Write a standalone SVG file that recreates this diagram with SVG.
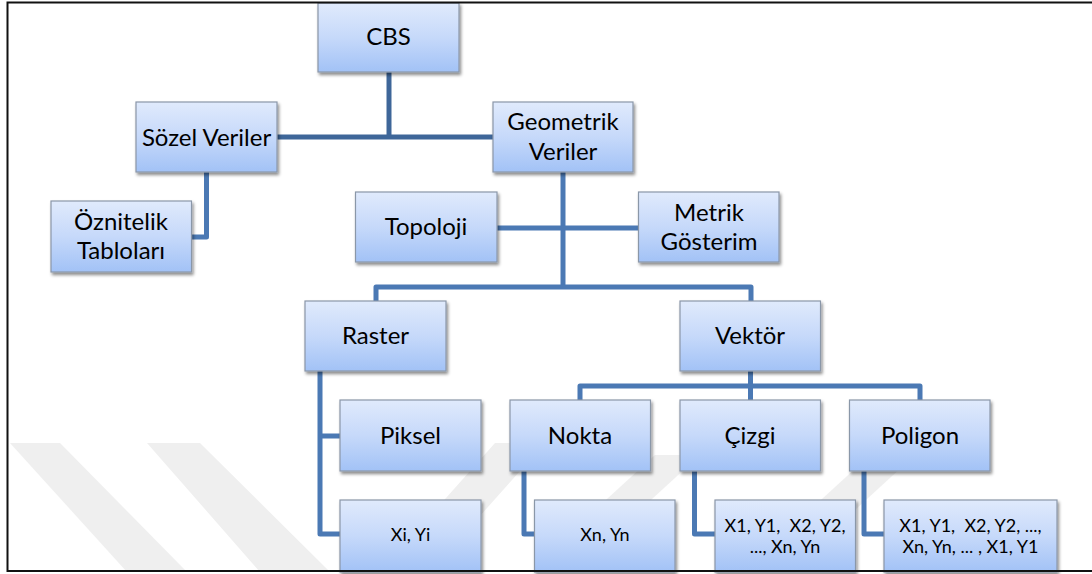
<svg xmlns="http://www.w3.org/2000/svg" width="1092" height="574" viewBox="0 0 1092 574">
<defs>
<linearGradient id="bg" x1="0" y1="0" x2="0" y2="1">
<stop offset="0" stop-color="#e0eafc"/>
<stop offset="0.5" stop-color="#c6d9fa"/>
<stop offset="1" stop-color="#a2c2f6"/>
</linearGradient>
<filter id="sh" x="-10%" y="-10%" width="125%" height="130%">
<feDropShadow dx="1.5" dy="2.5" stdDeviation="1.8" flood-color="#000" flood-opacity="0.45"/>
</filter>
<style>
.b{fill:url(#bg);stroke:#8a97a8;stroke-width:1.2;filter:url(#sh)}
.t{font-family:Lato,"Open Sans","Liberation Sans",sans-serif;font-size:24px;font-weight:400;fill:#000;text-anchor:middle}
.s{font-size:18px}
.c{fill:none;stroke:#4b79b4;stroke-width:5;stroke-linejoin:round}
.d{stroke:#3e6699}
.w{fill:#efefef}
</style>
</defs>
<rect width="1092" height="574" fill="#fff"/>
<g id="watermark">
<polygon class="w" points="10,443 60,443 187,572 127,572"/>
<polygon class="w" points="147,443 200,443 330,572 260,572"/>
<polygon class="w" points="495,443 545,443 430,572 380,572"/>
<polygon class="w" points="655,455 700,455 640,510 595,510"/>
<polygon class="w" points="870,455 915,455 855,510 810,510"/>
</g>
<g id="connectors">
<path class="c d" d="M389 72 V137"/>
<path class="c d" d="M277 137 H493"/>
<path class="c" d="M206.5 172 V237 H191.5"/>
<path class="c" d="M563 172 V287"/>
<path class="c" d="M497 228 H638.5"/>
<path class="c" d="M376 301 V287 H751 V301"/>
<path class="c" d="M750.5 371 V400"/>
<path class="c" d="M580 400 V386 H920 V400"/>
<path class="c" d="M320 371 V534 H340 M320 436 H340"/>
<path class="c" d="M524 471 V534 H534.5"/>
<path class="c" d="M694.5 471 V534 H715"/>
<path class="c" d="M864 471 V534 H884"/>
</g>
<g id="cbs"><rect class="b" x="318" y="3" width="141" height="69"/><text class="t" x="388.5" y="45">CBS</text></g>
<g id="sozel"><rect class="b" x="136" y="102" width="141" height="70"/><text class="t" x="206.5" y="146">Sözel Veriler</text></g>
<g id="geometrik"><rect class="b" x="493" y="102" width="140" height="70"/><text class="t" x="563" y="130">Geometrik</text><text class="t" x="563" y="160">Veriler</text></g>
<g id="oznitelik"><rect class="b" x="51" y="201" width="140.5" height="71"/><text class="t" x="121" y="230">Öznitelik</text><text class="t" x="121" y="259">Tabloları</text></g>
<g id="topoloji"><rect class="b" x="355.5" y="192" width="141.5" height="70"/><text class="t" x="426" y="235">Topoloji</text></g>
<g id="metrik"><rect class="b" x="638.5" y="192" width="140.5" height="70"/><text class="t" x="709" y="221">Metrik</text><text class="t" x="709" y="250">Gösterim</text></g>
<g id="raster"><rect class="b" x="305" y="301" width="141" height="70"/><text class="t" x="375.5" y="344">Raster</text></g>
<g id="vektor"><rect class="b" x="680" y="301" width="140.5" height="70"/><text class="t" x="750" y="344">Vektör</text></g>
<g id="piksel"><rect class="b" x="340" y="400" width="141" height="71"/><text class="t" x="410.5" y="444">Piksel</text></g>
<g id="nokta"><rect class="b" x="510" y="400" width="140.5" height="71"/><text class="t" x="580" y="444">Nokta</text></g>
<g id="cizgi"><rect class="b" x="680" y="400" width="140.5" height="71"/><text class="t" x="750" y="444">Çizgi</text></g>
<g id="poligon"><rect class="b" x="849.5" y="400" width="140.5" height="71"/><text class="t" x="920" y="444">Poligon</text></g>
<g id="xiyi"><rect class="b" x="340" y="500" width="141" height="72"/><text class="t s" x="410.5" y="541">Xi, Yi</text></g>
<g id="xnyn"><rect class="b" x="534.5" y="500" width="140.5" height="72"/><text class="t s" x="605" y="541">Xn, Yn</text></g>
<g id="cizgi-koord"><rect class="b" x="715" y="500" width="140.5" height="72"/><text class="t s" x="785" y="531.5" xml:space="preserve">X1, Y1,  X2, Y2,</text><text class="t s" x="785" y="553">..., Xn, Yn</text></g>
<g id="poligon-koord"><rect class="b" x="884" y="500" width="173" height="72"/><text class="t s" x="970.5" y="531.5" xml:space="preserve">X1, Y1,  X2, Y2, ...,</text><text class="t s" x="970.5" y="553">Xn, Yn, ... , X1, Y1</text></g>
<path id="frame" d="M1092 2.5 H7.5 V571 H1092" fill="none" stroke="#111" stroke-width="2"/>
</svg>
